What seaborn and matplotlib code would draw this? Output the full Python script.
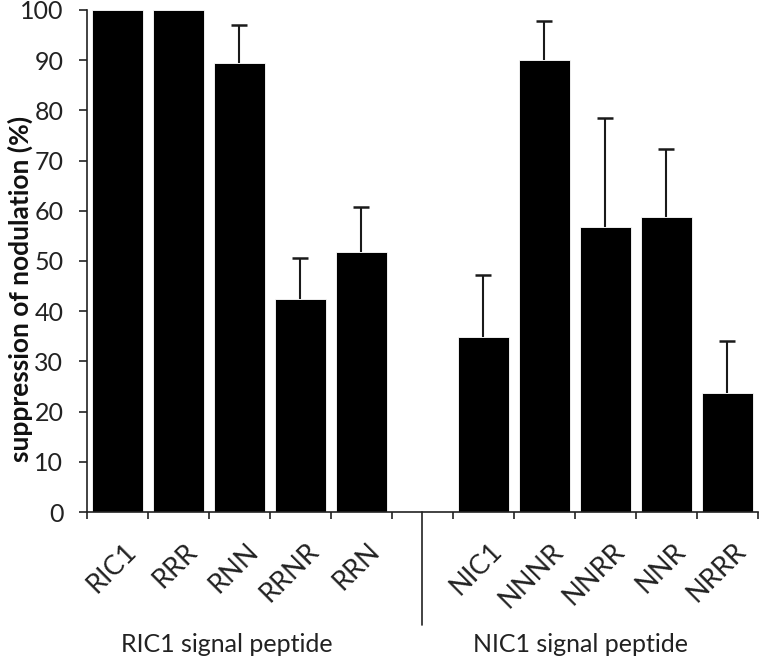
import matplotlib
matplotlib.use("Agg")
import matplotlib.pyplot as plt
from matplotlib.transforms import ScaledTranslation
import numpy as np
import pandas as pd
import seaborn as sns

# values
ric_labels = ['RIC1', 'RRR', 'RNN', 'RRNR', 'RRN']
ric_means = [100, 100, 89.4, 42.4, 51.8]
ric_err = [0, 0, 7.7, 8.2, 8.9]

nic_labels = ['NIC1', 'NNNR', 'NNRR', 'NNR', 'NRRR']
nic_means = [34.9, 90.0, 56.8, 58.8, 23.8]
nic_err = [12.3, 7.9, 21.7, 13.5, 10.3]

group_names = ['RIC1 signal peptide', 'NIC1 signal peptide']

gap = ' '
order = ric_labels + [gap] + nic_labels

df = pd.DataFrame({
    'construct': ric_labels + nic_labels,
    'suppression': ric_means + nic_means,
    'err': ric_err + nic_err,
})

sns.set_style("ticks")
plt.rcParams['font.family'] = ['Lato', 'DejaVu Sans']

ink = '#222222'
fig = plt.figure(figsize=(7.6, 6.57), dpi=100)
ax = fig.add_axes([0.1145, 0.2207, 0.8825, 0.7641])

sns.barplot(data=df, x='construct', y='suppression', order=order,
            color='black', width=0.84, edgecolor='white', linewidth=0.6,
            errorbar=None, ax=ax)

# upper-only error bars (skip the bars without spread)
sub = df[df['err'] > 0]
xpos = [order.index(c) for c in sub['construct']]
yerr = np.vstack([np.zeros(len(sub)), sub['err'].values])
eb = ax.errorbar(xpos, sub['suppression'], yerr=yerr, fmt='none', ecolor='#1a1a1a',
                 elinewidth=1.5, capsize=5.5, capthick=1.8)
eb[1][0].set_visible(False)  # lower caps

ax.set_xlim(-0.5, len(order) - 0.5)
ax.set_ylim(0, 100)
ax.set_yticks(np.arange(0, 101, 10))
ax.tick_params(axis='y', labelsize=18, length=6, width=1.2, pad=11,
               colors=ink, labelcolor=ink)

# labels at bar centres, ticks at category boundaries
ax.set_xticks(range(len(order)))
ax.set_xticklabels(order, rotation=45, ha='right', rotation_mode='anchor', fontsize=19.5, color=ink)
ax.tick_params(axis='x', which='major', length=0, pad=19)
for lab in ax.get_xticklabels():
    lab.set_transform(lab.get_transform() + ScaledTranslation(0.06, 0, fig.dpi_scale_trans))
ax.set_xticks(np.arange(-0.5, len(order)), minor=True)
ax.tick_params(axis='x', which='minor', length=5, width=1.2, colors=ink)

ax.set_xlabel('')
ax.set_ylabel('suppression of nodulation (%)', fontsize=19, fontweight='bold', color='#111111')
ax.yaxis.set_label_coords(-0.08, 0.444)

sns.despine(ax=ax)
for s in ['left', 'bottom']:
    ax.spines[s].set_linewidth(1.2)
    ax.spines[s].set_color(ink)

# group separator and group labels
gi = order.index(gap)
ax.plot([gi, gi], [0, -22.5], color=ink, lw=1.2, clip_on=False)
ax.text(1.8, -27.9, group_names[0], ha='center', va='baseline', fontsize=18, color=ink)
ax.text(7.6, -27.9, group_names[1], ha='center', va='baseline', fontsize=18, color=ink)

plt.savefig('out.png', dpi=100)
